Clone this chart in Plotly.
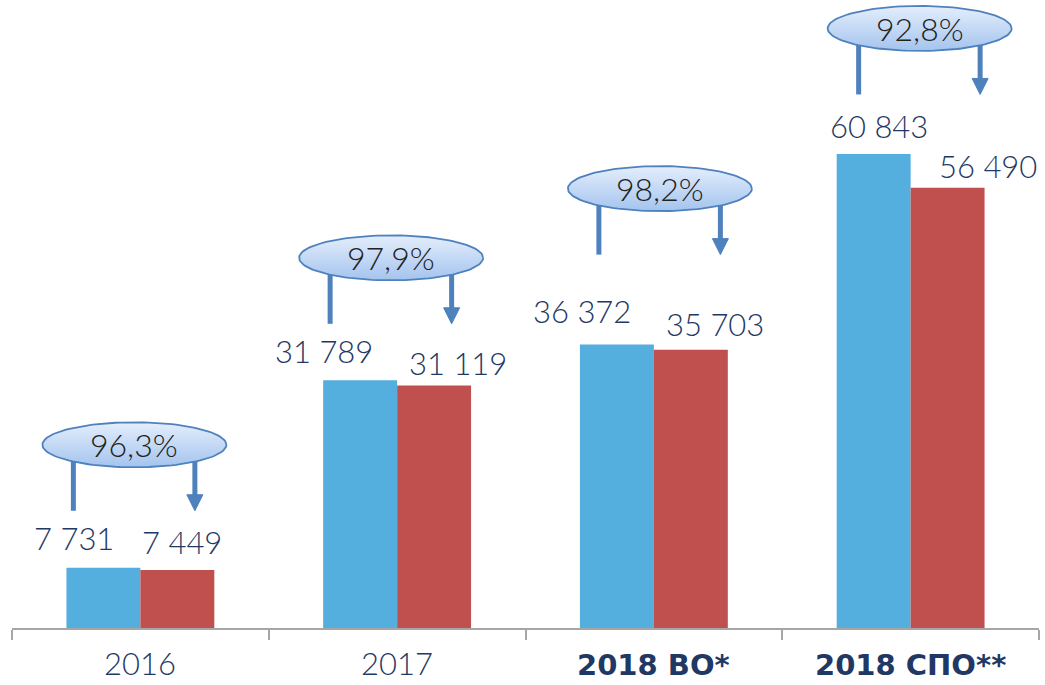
import numpy as np
import plotly.graph_objects as go

# ---------------- data ----------------
categories = ["2016", "2017", "2018 ВО*", "2018 СПО**"]
bold_category = [False, False, True, True]
series_a = [7731, 31789, 36372, 60843]   # blue bars
series_b = [7449, 31119, 35703, 56490]   # red bars
share_labels = ["96,3%", "97,9%", "98,2%", "92,8%"]

# ---------------- style / layout ----------------
BLUE = "#54AEDE"
RED = "#C0504D"
NAVY = "#1F3864"
ARROW = "#4F81BD"
W, H = 1045, 685
ML, MR, MT, MB = 12, 6, 0, 57
YMAX = 80600
BARGAP = 0.424
n = len(categories)
PX_X = (W - ML - MR) / n          # pixels per x unit
PX_Y = (H - MT - MB) / YMAX       # pixels per y unit
half = (1 - BARGAP) / 4           # offset of each bar centre from group centre

NUM_FONT = "Lato"
NUM_SIZE = 31
NUM_WEIGHT = 300

# label offsets (pixels) relative to bar centre / top
a_dx = [-29.5, -36, -34.5, 5]
a_dy = [29.5, 29, 34, 28]
b_dx = [5, 24, 24, 40]
b_dy = [27.5, 22.5, 26, 22]
# bubble offsets (pixels) relative to group centre / blue bar top
bub_dx = [-6, -6, 6, 9]
bub_dy = [123, 122.5, 156, 125.5]
BUB_A, BUB_B = 92, 22.5
STEM_L, STEM_R = -61, 60.5      # stem x offsets from bubble centre (px)
STEM_DROP = 66                  # stem bottom below bubble centre (px)
HEAD_LEN, HEAD_HALF = 16, 8     # arrow head size (px)

def fmt(v):
    return f"{v:,}".replace(",", " ")

def dx(p):
    return p / PX_X

def dy(p):
    return p / PX_Y

num_font = dict(family=NUM_FONT, size=NUM_SIZE, color=NAVY, weight=NUM_WEIGHT)

x = list(range(n))
fig = go.Figure()
fig.add_bar(x=x, y=series_a, marker=dict(color=BLUE, line=dict(width=0)),
            hoverinfo="skip", showlegend=False)
fig.add_bar(x=x, y=series_b, marker=dict(color=RED, line=dict(width=0)),
            hoverinfo="skip", showlegend=False)

annotations = []
t = np.linspace(0, 2 * np.pi, 121)
stem_x, stem_y, head_x, head_y = [], [], [], []
bubbles = []
for i in range(n):
    # value labels
    annotations.append(dict(x=i - half, y=series_a[i], xref="x", yref="y",
                            xshift=a_dx[i], yshift=a_dy[i], text=fmt(series_a[i]),
                            showarrow=False, yanchor="middle", font=num_font))
    annotations.append(dict(x=i + half, y=series_b[i], xref="x", yref="y",
                            xshift=b_dx[i], yshift=b_dy[i], text=fmt(series_b[i]),
                            showarrow=False, yanchor="middle", font=num_font))
    cx = i + dx(bub_dx[i])
    cy = series_a[i] + dy(bub_dy[i])
    bubbles.append((cx, cy))
    # left stem
    xl = cx + dx(STEM_L)
    stem_x += [xl, xl, None]
    stem_y += [cy, cy - dy(STEM_DROP), None]
    # right arrow shaft + head
    xr = cx + dx(STEM_R)
    stem_x += [xr, xr, None]
    stem_y += [cy, cy - dy(STEM_DROP - HEAD_LEN + 1), None]
    head_x += [xr - dx(HEAD_HALF), xr + dx(HEAD_HALF), xr, xr - dx(HEAD_HALF), None]
    ybase = cy - dy(STEM_DROP - HEAD_LEN)
    head_y += [ybase, ybase, cy - dy(STEM_DROP), ybase, None]
    annotations.append(dict(x=cx, y=cy, xref="x", yref="y", text=share_labels[i],
                            showarrow=False, yanchor="middle",
                            font=dict(family=NUM_FONT, size=NUM_SIZE + 1,
                                      color="#222222", weight=NUM_WEIGHT)))
    # category labels
    if bold_category[i]:
        annotations.append(dict(x=i, y=0, xref="x", yref="y", yshift=-56,
                                text="<b>" + categories[i] + "</b>", showarrow=False,
                                yanchor="bottom",
                                font=dict(family="DejaVu Sans", size=29, color=NAVY)))
    else:
        annotations.append(dict(x=i, y=0, xref="x", yref="y", yshift=-56,
                                text=categories[i], showarrow=False, yanchor="bottom",
                                font=dict(family=NUM_FONT, size=31, color=NAVY,
                                          weight=NUM_WEIGHT)))

# stems and arrows (drawn beneath bubbles)
fig.add_trace(go.Scatter(x=stem_x, y=stem_y, mode="lines",
                         line=dict(color=ARROW, width=5), hoverinfo="skip",
                         showlegend=False))
fig.add_trace(go.Scatter(x=head_x, y=head_y, mode="lines", fill="toself",
                         fillcolor=ARROW, line=dict(color=ARROW, width=1),
                         hoverinfo="skip", showlegend=False))
# bubbles
for cx, cy in bubbles:
    ex = cx + dx(BUB_A) * np.cos(t)
    ey = cy + dy(BUB_B) * np.sin(t)
    fig.add_trace(go.Scatter(x=ex, y=ey, mode="lines", fill="toself",
                             line=dict(color=ARROW, width=1.8),
                             fillgradient=dict(type="vertical",
                                               colorscale=[[0, "#A4C4EE"], [1, "#E4EEFC"]]),
                             hoverinfo="skip", showlegend=False))

fig.update_layout(
    width=W, height=H, margin=dict(l=ML, r=MR, t=MT, b=MB),
    paper_bgcolor="white", plot_bgcolor="white",
    barmode="group", bargap=BARGAP, bargroupgap=0,
    annotations=annotations, showlegend=False,
    xaxis=dict(range=[-0.5, n - 0.5], tickvals=[k - 0.5 for k in range(n + 1)],
               ticks="outside", ticklen=10, tickwidth=2, tickcolor="#A6A6A6",
               showticklabels=False, showline=True, linecolor="#A6A6A6", linewidth=2,
               showgrid=False, zeroline=False, fixedrange=True),
    yaxis=dict(range=[0, YMAX], visible=False, showgrid=False, zeroline=False,
               fixedrange=True),
)

fig.write_html("out.html", config={"displayModeBar": False},
               post_script="document.body.style.margin='0';document.body.style.overflow='hidden';")
